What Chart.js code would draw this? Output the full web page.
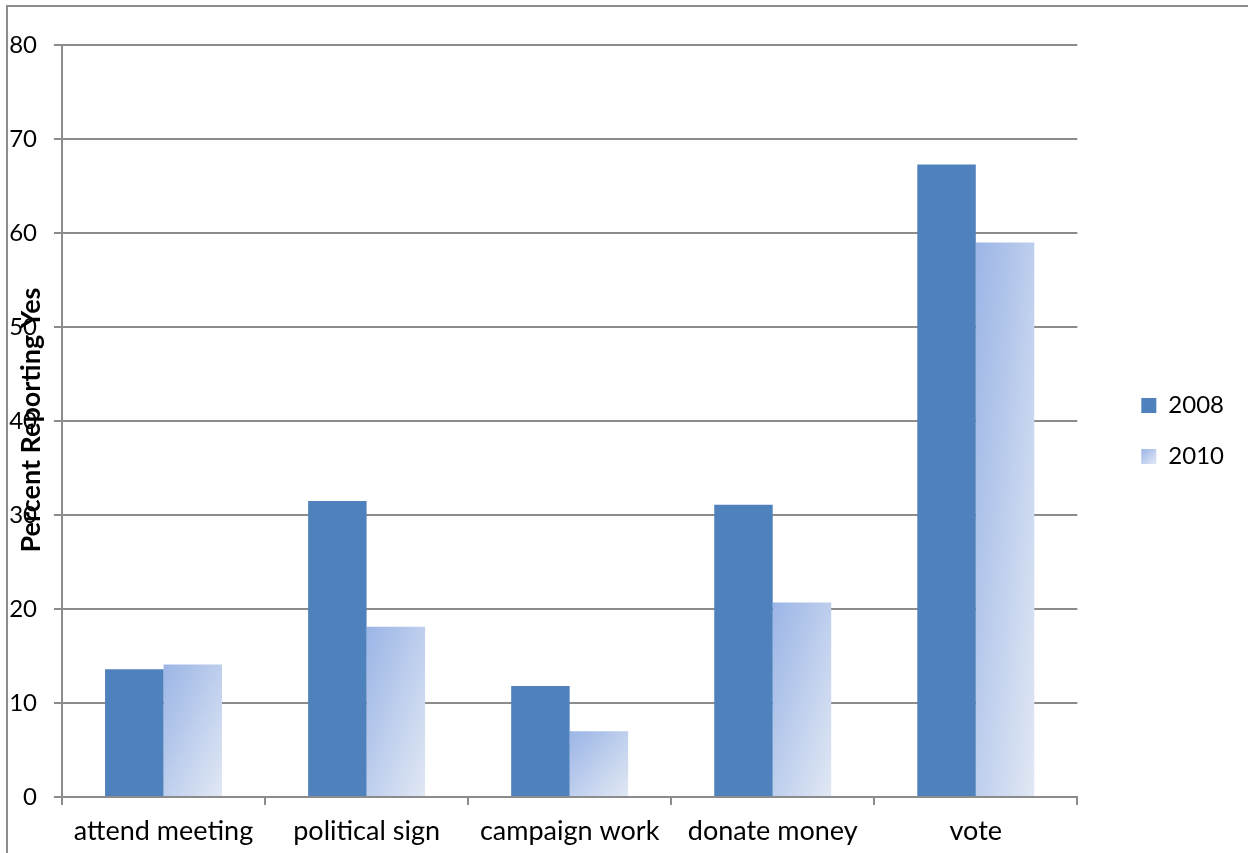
<!DOCTYPE html>
<html>
<head>
<meta charset="utf-8">
<script src="https://cdn.jsdelivr.net/npm/chart.js@4"></script>
<style>
  html, body { margin: 0; padding: 0; background: #fff; overflow: hidden; }
  #frame { position: absolute; left: 6px; top: 5px; width: 2000px; height: 2000px;
           border-top: 2px solid #8c8c8c; border-left: 2px solid #8c8c8c; }
  #wrap { position: absolute; left: 0; top: 0; width: 1248px; height: 853px; }
</style>
</head>
<body>
<div id="frame"></div>
<div id="wrap"><canvas id="chart"></canvas></div>
<script>
const categories = ['attend meeting', 'political sign', 'campaign work', 'donate money', 'vote'];
const values2008 = [13.6, 31.5, 11.8, 31.1, 67.3];
const values2010 = [14.1, 18.1, 7.0, 20.7, 59.0];
const seriesLabels = ['2008', '2010'];
const yTicks = [0, 10, 20, 30, 40, 50, 60, 70, 80];

const FONT = 'Lato, "Open Sans", sans-serif';
const GRID = '#8c8c8c';
const DARK = '#4f81bd';
const LIGHT_A = '#9bb5e6';
const LIGHT_B = '#e1e8f4';

// Excel-style diagonal gradient scaled to the box: top-left -> bottom-right
function lightGradient(ctx, x, y, w, h) {
  const t = (2 * w * h) / (w * w + h * h);
  const g = ctx.createLinearGradient(x, y, x + t * h, y + t * w);
  g.addColorStop(0, LIGHT_A);
  g.addColorStop(1, LIGHT_B);
  return g;
}

const gradientBars = {
  id: 'gradientBars',
  afterUpdate(chart) {
    const legend = chart.legend;
    if (!legend) return;
    const dx = 37, dy = -18;
    legend.left += dx;
    legend.right += dx;
    legend.top += dy;
    legend.bottom += dy;
    (legend.legendHitBoxes || []).forEach((h) => { h.left += dx; h.top += dy; });
  },
  beforeDatasetsDraw(chart) {
    const ctx = chart.ctx;
    // bars share one options object, so give each its own copy
    chart.getDatasetMeta(1).data.forEach((bar) => {
      const left = bar.x - bar.width / 2;
      const g = lightGradient(ctx, left, bar.y, bar.width, bar.base - bar.y);
      bar.options = { ...bar.options, backgroundColor: g };
    });
  },
  beforeDraw(chart) {
    const legend = chart.legend;
    if (!legend || !legend.legendItems || !legend.legendHitBoxes) return;
    const h = legend.legendHitBoxes[1];
    const item = legend.legendItems[1];
    if (h && item) {
      const top = h.top + (h.height - 15) / 2;
      item.fillStyle = lightGradient(chart.ctx, h.left, top, 15, 15);
    }
  },
  afterDraw(chart) {
    const ctx = chart.ctx;
    ctx.save();
    ctx.translate(31, 420);
    ctx.rotate(-Math.PI / 2);
    ctx.font = 'bold 27px ' + FONT;
    ctx.fillStyle = '#000';
    ctx.textAlign = 'center';
    ctx.textBaseline = 'middle';
    ctx.fillText('Percent Reporting Yes', 0, 0);
    ctx.restore();
  },
};

new Chart(document.getElementById('chart'), {
  type: 'bar',
  data: {
    labels: categories,
    datasets: [
      { label: seriesLabels[0], data: values2008, backgroundColor: DARK },
      { label: seriesLabels[1], data: values2010, backgroundColor: LIGHT_A },
    ],
  },
  options: {
    responsive: true,
    maintainAspectRatio: false,
    animation: false,
    categoryPercentage: 0.576,
    barPercentage: 1,
    layout: { padding: { top: 45, left: 0, right: 51, bottom: 0 } },
    plugins: {
      tooltip: { enabled: false },
      legend: {
        position: 'right',
        align: 'center',
        labels: {
          color: '#000',
          font: { family: FONT, size: 24 },
          boxWidth: 15,
          boxHeight: 15,
          padding: 27,
        },
      },
    },
    scales: {
      x: {
        afterFit: (s) => { s.height = 56; },
        grid: { drawOnChartArea: false, drawTicks: true, tickLength: 8, color: GRID, lineWidth: 2, offset: true },
        border: { color: GRID, width: 2 },
        ticks: { color: '#000', font: { family: FONT, size: 27 }, padding: 10, maxRotation: 0, autoSkip: false },
      },
      y: {
        min: 0,
        max: 80,
        afterFit: (s) => { s.width = 62; },
        afterBuildTicks: (s) => { s.ticks = yTicks.map((v) => ({ value: v })); },
        grid: { color: GRID, lineWidth: 2, tickLength: 8 },
        border: { color: GRID, width: 2 },
        ticks: { color: '#000', font: { family: FONT, size: 24 }, padding: 17 },
      },
    },
  },
  plugins: [gradientBars],
});
</script>
</body>
</html>
